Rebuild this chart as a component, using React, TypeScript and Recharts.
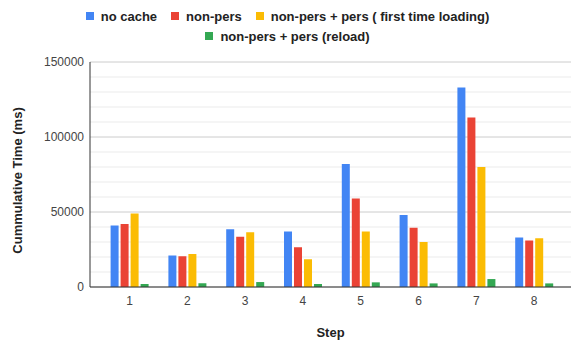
import React from 'react';
import { BarChart, Bar, XAxis, YAxis, CartesianGrid, Legend } from 'recharts';

// Step numbers along the category axis
const steps = ['1', '2', '3', '4', '5', '6', '7', '8'];

// Cumulative load time per step (ms)
const noCache = [41000, 21000, 38500, 37000, 82000, 48000, 133000, 33000];
const nonPers = [42000, 20500, 33500, 26500, 59000, 39500, 113000, 31000];
const firstLoad = [49000, 22000, 36500, 18500, 37000, 30000, 80000, 32500];
const reload = [2000, 2500, 3300, 2000, 3100, 2400, 5300, 2400];

// Axis ticks and gridlines
const yTicks = [0, 50000, 100000, 150000];
const minorGrid = [10000, 20000, 30000, 40000, 60000, 70000, 80000, 90000, 110000, 120000, 130000, 140000];

const series = [
  { key: 'noCache', name: 'no cache', color: '#4285F4', values: noCache },
  { key: 'nonPers', name: 'non-pers', color: '#EA4335', values: nonPers },
  { key: 'firstLoad', name: 'non-pers + pers ( first time loading)', color: '#FBBC04', values: firstLoad },
  { key: 'reload', name: 'non-pers + pers (reload)', color: '#34A853', values: reload },
];

const rows = steps.map((step, i) => {
  const row: Record<string, string | number> = { step };
  series.forEach((s) => {
    row[s.key] = s.values[i];
  });
  return row;
});

const FONT = '"Liberation Sans", Arial, sans-serif';

const LegendRow = ({ items }: { items: any[] }) => (
  <div style={{ display: 'flex', justifyContent: 'center', alignItems: 'center', height: 20 }}>
    {items.map((item, i) => (
      <div key={item.value} style={{ display: 'flex', alignItems: 'center', marginRight: i < items.length - 1 ? 14 : 0 }}>
        <span style={{ width: 8, height: 8, background: item.color, marginRight: 7, display: 'inline-block' }} />
        <span style={{ fontFamily: FONT, fontWeight: 'bold', fontSize: 13, color: '#222' }}>{item.value}</span>
      </div>
    ))}
  </div>
);

const renderLegend = (props: any) => {
  const payload = props.payload || [];
  return (
    <div style={{ paddingTop: 6, paddingLeft: 4 }}>
      <LegendRow items={payload.slice(0, 3)} />
      <LegendRow items={payload.slice(3)} />
    </div>
  );
};

const YTitle = (props: any) => {
  const vb = props.viewBox;
  const cy = vb.y + vb.height / 2 + 6;
  return (
    <text
      x={22}
      y={cy}
      transform={`rotate(-90, 22, ${cy})`}
      textAnchor="middle"
      fontFamily={FONT}
      fontWeight="bold"
      fontSize={13}
      fill="#222"
    >
      Cummulative Time (ms)
    </text>
  );
};

const XTitle = (props: any) => {
  const vb = props.viewBox;
  return (
    <text
      x={vb.x + vb.width / 2}
      y={337}
      textAnchor="middle"
      fontFamily={FONT}
      fontWeight="bold"
      fontSize={13}
      fill="#222"
    >
      Step
    </text>
  );
};

export default function App() {
  return (
    <div style={{ position: 'absolute', left: 0, top: 0, width: 571, height: 341, background: '#fff' }}>
      <BarChart
        width={571}
        height={341}
        data={rows}
        margin={{ top: 16, right: 0, bottom: 0, left: 0 }}
        barSize={8}
        barGap={2}
        style={{ fontFamily: FONT }}
      >
        <CartesianGrid vertical={false} horizontalValues={minorGrid} stroke="#ebebeb" />
        <CartesianGrid vertical={false} horizontalValues={yTicks} stroke="#cccccc" />
        <XAxis
          dataKey="step"
          height={54}
          padding={{ left: 10.6, right: 8 }}
          tickLine={false}
          tickSize={0}
          tickMargin={9}
          axisLine={{ stroke: '#333' }}
          tick={{ fill: '#444', fontSize: 12, fontFamily: FONT }}
          label={<XTitle />}
        />
        <YAxis
          width={90}
          domain={[0, 150000]}
          ticks={yTicks}
          interval={0}
          tickLine={false}
          tickSize={0}
          tickMargin={6}
          axisLine={{ stroke: '#333' }}
          tick={{ fill: '#444', fontSize: 12, fontFamily: FONT }}
          label={<YTitle />}
        />
        <Legend verticalAlign="top" content={renderLegend} wrapperStyle={{ top: 0, left: 0 }} />
        {series.map((s) => (
          <Bar key={s.key} dataKey={s.key} name={s.name} fill={s.color} isAnimationActive={false} />
        ))}
      </BarChart>
    </div>
  );
}
